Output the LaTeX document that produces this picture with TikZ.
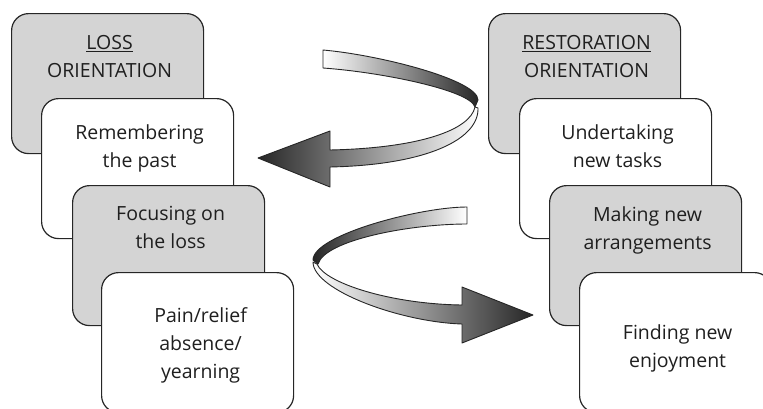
\documentclass[tikz,border=0pt]{standalone}
\usepackage{fontspec}
\setmainfont{Open Sans}
\begin{document}
\begin{tikzpicture}[x=1pt,y=-1pt]
\tikzset{
  card/.style={draw=black!85, line width=1.2pt, rounded corners=17pt,
    minimum width=192pt, minimum height=140pt, inner sep=0pt, anchor=north west},
  graycard/.style={card, fill=black!17},
  whitecard/.style={card, fill=white},
  cardtext/.style={anchor=north, align=center, inner sep=0pt,
    font=\fontsize{19.5}{28}\selectfont, text=black!88},
  ribbon/.style={draw=black!85, line width=0.9pt, line join=round}
}
\useasboundingbox (0,0) rectangle (763,408);

% loss-oriented column
\node[graycard]  (lossbox)     at (11,13)   {};
\node[cardtext]  (losstext)    at ([xshift=2pt,yshift=-22pt]lossbox.north)
  {\underline{LOSS}\\ORIENTATION};
\node[whitecard] (rememberbox) at (41,98)   {};
\node[cardtext]  (remembertext) at ([xshift=2pt,yshift=-26pt]rememberbox.north)
  {Remembering\\the past};
\node[graycard]  (focusbox)    at (72,185)  {};
\node[cardtext]  (focustext)   at ([xshift=2pt,yshift=-21pt]focusbox.north)
  {Focusing on\\the loss};
\node[whitecard] (painbox)     at (101,272) {};
\node[cardtext]  (paintext)    at ([xshift=3pt,yshift=-35pt]painbox.north)
  {Pain/relief\\absence/\\yearning};

% restoration-oriented column
\node[graycard]  (restbox)     at (488,13)  {};
\node[cardtext]  (resttext)    at ([xshift=2pt,yshift=-22pt]restbox.north)
  {\underline{RESTORATION}\\ORIENTATION};
\node[whitecard] (taskbox)     at (519,98)  {};
\node[cardtext]  (tasktext)    at ([xshift=2pt,yshift=-26pt]taskbox.north)
  {Undertaking\\new tasks};
\node[graycard]  (arrangebox)  at (549,185) {};
\node[cardtext]  (arrangetext) at ([xshift=2pt,yshift=-21pt]arrangebox.north)
  {Making new\\arrangements};
\node[whitecard] (enjoybox)    at (579,272) {};
\node[cardtext]  (enjoytext)   at ([xshift=2pt,yshift=-52pt]enjoybox.north)
  {Finding new\\enjoyment};

% upper twisted ribbon arrow, pointing left
\shadedraw[ribbon, left color=white, right color=black!85]
  (323,50) .. controls (380,55) and (478,80) .. (478,100)
  -- (475,107) .. controls (470,90) and (380,72) .. (323,68) -- cycle;
\shadedraw[ribbon, left color=black!85, right color=white]
  (475,107) .. controls (470,130) and (420,148) .. (330,150)
  -- (330,131) -- (258,158) -- (330,187) -- (330,167)
  .. controls (425,165) and (479,140) .. (478,108) -- cycle;

% lower twisted ribbon arrow, pointing right
\shadedraw[ribbon, left color=black!85, right color=white]
  (467,207) .. controls (420,207) and (313,235) .. (313,260)
  -- (318,264) .. controls (325,240) and (410,224) .. (467,224) -- cycle;
\shadedraw[ribbon, left color=white, right color=black!85]
  (317,264) .. controls (325,283) and (390,304) .. (462,305)
  -- (462,287) -- (533,315) -- (462,343) -- (462,324)
  .. controls (400,322) and (313,290) .. (313,262) -- cycle;
\end{tikzpicture}
\end{document}
